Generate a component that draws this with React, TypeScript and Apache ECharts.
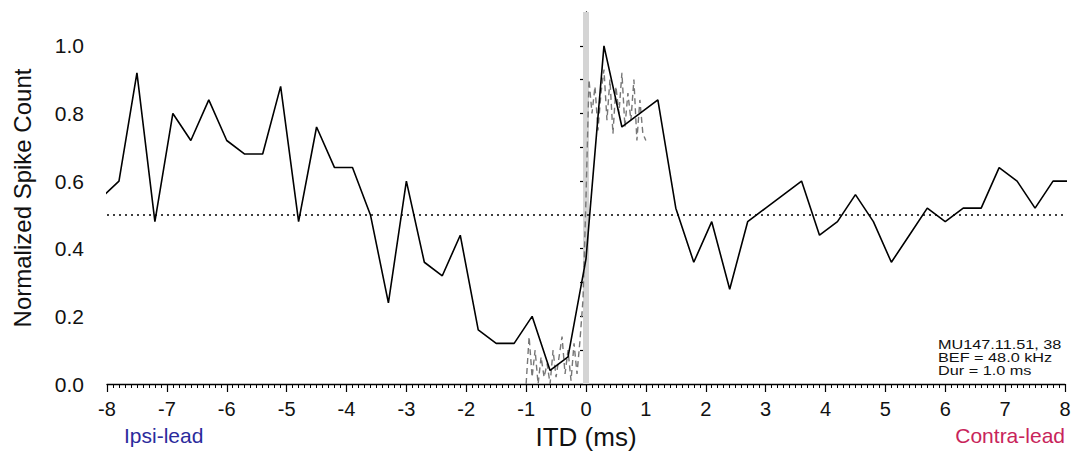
import React, { useEffect, useRef } from "react";
import * as echarts from "echarts";

// Solid curve: normalized spike count vs ITD (ms)
const itdMs = [
  -8.1, -7.8, -7.5, -7.2, -6.9, -6.6, -6.3, -6.0, -5.7, -5.4, -5.1, -4.8, -4.5, -4.2,
  -3.9, -3.6, -3.3, -3.0, -2.7, -2.4, -2.1, -1.8, -1.5, -1.2, -0.9, -0.6, -0.3, 0.0,
  0.3, 0.6, 0.9, 1.2, 1.5, 1.8, 2.1, 2.4, 2.7, 3.0, 3.3, 3.6, 3.9, 4.2, 4.5, 4.8,
  5.1, 5.4, 5.7, 6.0, 6.3, 6.6, 6.9, 7.2, 7.5, 7.8, 8.1,
];
const spikeCount = [
  0.55, 0.6, 0.92, 0.48, 0.8, 0.72, 0.84, 0.72, 0.68, 0.68, 0.88, 0.48, 0.76, 0.64,
  0.64, 0.5, 0.24, 0.6, 0.36, 0.32, 0.44, 0.16, 0.12, 0.12, 0.2, 0.04, 0.08, 0.37,
  1.0, 0.76, 0.8, 0.84, 0.52, 0.36, 0.48, 0.28, 0.48, 0.52, 0.56, 0.6, 0.44, 0.48,
  0.56, 0.48, 0.36, 0.44, 0.52, 0.48, 0.52, 0.52, 0.64, 0.6, 0.52, 0.6, 0.6,
];

// Dashed fine-resolution curve near zero ITD
const itdFine = [
  -1.0, -0.95, -0.9, -0.85, -0.8, -0.75, -0.7, -0.65, -0.6, -0.55, -0.5, -0.45, -0.4,
  -0.35, -0.3, -0.25, -0.2, -0.15, -0.1, -0.05, 0.0, 0.05, 0.1, 0.15, 0.2, 0.25, 0.3,
  0.35, 0.4, 0.45, 0.5, 0.55, 0.6, 0.65, 0.7, 0.75, 0.8, 0.85, 0.9, 0.95, 1.0,
];
const spikeFine = [
  0.0, 0.14, 0.02, 0.1, 0.0, 0.08, 0.02, 0.06, 0.0, 0.1, 0.02, 0.08, 0.14,
  0.03, 0.1, 0.01, 0.12, 0.03, 0.13, 0.25, 0.55, 0.9, 0.8, 0.88, 0.75, 0.86, 0.93,
  0.78, 0.9, 0.74, 0.88, 0.8, 0.92, 0.76, 0.86, 0.78, 0.9, 0.72, 0.84, 0.74, 0.72,
];

const referenceLevel = 0.5;
const zeroBand = [-0.05, 0.05];
const yTickValues = [0, 0.1, 0.2, 0.3, 0.4, 0.5, 0.6, 0.7, 0.8, 0.9, 1.0];
const yLabelValues = [0, 0.2, 0.4, 0.6, 0.8, 1.0];
const unitInfo = ["MU147.11.51, 38", "BEF = 48.0 kHz", "Dur = 1.0 ms"];

const FONT = "'Liberation Sans', Arial, Helvetica, sans-serif";

export default function App() {
  const ref = useRef<HTMLDivElement>(null);

  useEffect(() => {
    if (!ref.current) return;
    const chart = echarts.init(ref.current, undefined, { renderer: "svg" });
    const option: any = {
      animation: false,
      backgroundColor: "#ffffff",
      textStyle: { fontFamily: FONT },
      grid: { left: 107, right: 14, top: 12, bottom: 78, containLabel: false },
      xAxis: {
        type: "value",
        min: -8,
        max: 8,
        interval: 1,
        name: "ITD (ms)",
        nameLocation: "middle",
        nameGap: 40,
        nameTextStyle: { fontSize: 26, color: "#111", fontFamily: FONT },
        axisLine: { show: true, onZero: false, lineStyle: { color: "#000", width: 1.3 } },
        axisTick: { show: true, inside: false, length: 8, lineStyle: { color: "#000", width: 1.2 } },
        minorTick: { show: true, splitNumber: 10, length: 4, lineStyle: { color: "#000", width: 1 } },
        axisLabel: { fontSize: 20, color: "#111", margin: 15, fontFamily: FONT },
        splitLine: { show: false },
        minorSplitLine: { show: false },
      },
      yAxis: {
        type: "value",
        min: 0,
        max: 1.1,
        interval: 0.1,
        name: "Normalized Spike Count",
        nameLocation: "middle",
        nameGap: 73,
        nameTextStyle: { fontSize: 24, color: "#111", fontFamily: FONT },
        axisLine: { show: true, lineStyle: { color: "#000", width: 1.3 } },
        axisTick: {
          show: true,
          length: 6,
          customValues: yTickValues,
          lineStyle: { color: "#000", width: 1.2 },
        },
        axisLabel: {
          fontSize: 21,
          color: "#111",
          margin: 23,
          customValues: yLabelValues,
          formatter: (v: number) => v.toFixed(1),
          fontFamily: FONT,
        },
        splitLine: { show: false },
      },
      series: [
        {
          type: "line",
          name: "fine",
          data: itdFine.map((x, i) => [x, spikeFine[i]]),
          showSymbol: false,
          symbol: "none",
          lineStyle: { color: "#777777", width: 1.4, type: [6, 4] },
          z: 3,
          markArea: {
            silent: true,
            itemStyle: { color: "#d4d4d4" },
            data: [[{ xAxis: zeroBand[0] }, { xAxis: zeroBand[1] }]],
          },
        },
        {
          type: "line",
          name: "count",
          data: itdMs.map((x, i) => [x, spikeCount[i]]),
          showSymbol: false,
          symbol: "none",
          clip: true,
          lineStyle: { color: "#000", width: 1.6 },
          z: 4,
          markLine: {
            silent: true,
            symbol: "none",
            label: { show: false },
            lineStyle: { color: "#000", width: 1.6, type: [2, 4] },
            data: [{ yAxis: referenceLevel }],
          },
        },
      ],
      graphic: [
        {
          type: "text",
          left: 124,
          top: 425,
          style: { text: "Ipsi-lead", fontSize: 21, fill: "#2b2b9c", fontFamily: FONT },
        },
        {
          type: "text",
          right: 14,
          top: 425,
          style: { text: "Contra-lead", fontSize: 21, fill: "#c8245a", fontFamily: FONT },
        },
        {
          type: "text",
          x: 938,
          y: 338,
          scaleX: 1.25,
          style: {
            text: unitInfo.join("\n"),
            fontSize: 13,
            lineHeight: 13,
            fill: "#111",
            fontFamily: FONT,
          },
        },
      ],
    };
    chart.setOption(option);
    return () => chart.dispose();
  }, []);

  return (
    <div
      ref={ref}
      style={{ position: "absolute", left: 0, top: 0, width: 1079, height: 462, background: "#fff" }}
    />
  );
}
